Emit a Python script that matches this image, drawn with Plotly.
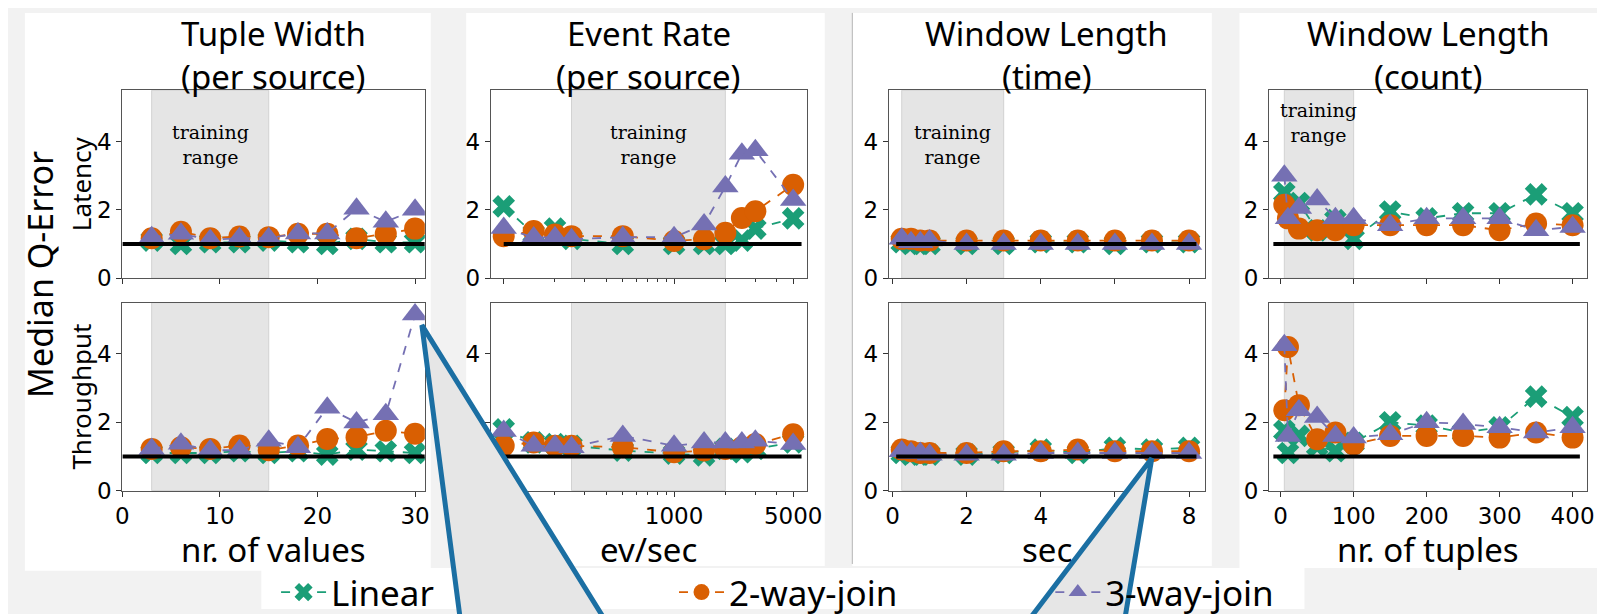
import math
import plotly.graph_objects as go

W, H = 1605, 614

# ---------------- data ----------------
series_names = ["Linear", "2-way-join", "3-way-join"]
series_colors = ["#1b9e77", "#d95f02", "#7570b3"]
series_symbols = ["x", "circle", "triangle-up"]

col_titles = [["Tuple Width", "(per source)"], ["Event Rate", "(per source)"],
              ["Window Length", "(time)"], ["Window Length", "(count)"]]
x_titles = ["nr. of values", "ev/sec", "sec", "nr. of tuples"]
row_titles = ["Latency", "Throughput"]
y_title = "Median Q-Error"

# Tuple width (per source)
tw_x = [3, 6, 9, 12, 15, 18, 21, 24, 27, 30]
tw_lat_linear = [1.1, 1.0, 1.05, 1.05, 1.1, 1.05, 1.0, 1.15, 1.05, 1.05]
tw_lat_2way = [1.17, 1.36, 1.17, 1.22, 1.2, 1.3, 1.3, 1.17, 1.3, 1.45]
tw_lat_3way = [1.2, 1.3, 1.12, 1.17, 1.17, 1.31, 1.31, 2.03, 1.65, 2.0]
tw_thr_linear = [1.1, 1.1, 1.1, 1.15, 1.1, 1.15, 1.05, 1.2, 1.15, 1.1]
tw_thr_2way = [1.22, 1.27, 1.22, 1.32, 1.18, 1.32, 1.51, 1.56, 1.75, 1.66]
tw_thr_3way = [1.22, 1.37, 1.18, 1.18, 1.46, 1.27, 2.42, 1.99, 2.23, 5.15]

# Event rate (per source)
er_x = [100, 150, 200, 250, 500, 1000, 1500, 2000, 2500, 3000, 5000]
er_lat_linear = [2.1, 1.3, 1.45, 1.15, 1.0, 1.0, 1.0, 1.0, 1.1, 1.45, 1.75]
er_lat_2way = [1.23, 1.38, 1.28, 1.23, 1.23, 1.09, 1.14, 1.33, 1.76, 1.96, 2.73]
er_lat_3way = [1.47, 1.19, 1.2, 1.14, 1.2, 1.2, 1.57, 2.68, 3.64, 3.74, 2.29]
er_thr_linear = [1.79, 1.41, 1.36, 1.31, 1.17, 1.08, 1.03, 1.22, 1.12, 1.22, 1.41]
er_thr_2way = [1.31, 1.41, 1.31, 1.31, 1.27, 1.12, 1.17, 1.22, 1.27, 1.36, 1.65]
er_thr_3way = [1.74, 1.31, 1.31, 1.27, 1.6, 1.31, 1.41, 1.41, 1.41, 1.46, 1.36]

# Window length (time)
wt_x = [0.25, 0.5, 0.75, 1, 2, 3, 4, 5, 6, 7, 8]
wt_lat_linear = [1.05, 1.0, 1.0, 1.0, 1.0, 1.0, 1.05, 1.05, 1.0, 1.05, 1.05]
wt_lat_2way = [1.15, 1.15, 1.1, 1.1, 1.1, 1.1, 1.1, 1.1, 1.1, 1.1, 1.1]
wt_lat_3way = [1.15, 1.05, 1.05, 1.1, 1.0, 1.0, 1.0, 1.0, 1.0, 1.0, 1.0]
wt_thr_linear = [1.1, 1.05, 1.05, 1.05, 1.05, 1.1, 1.2, 1.1, 1.25, 1.2, 1.25]
wt_thr_2way = [1.2, 1.15, 1.1, 1.1, 1.1, 1.15, 1.15, 1.2, 1.15, 1.15, 1.15]
wt_thr_3way = [1.15, 1.1, 1.1, 1.05, 1.05, 1.05, 1.1, 1.1, 1.1, 1.1, 1.1]

# Window length (count)
wc_x = [5, 10, 25, 50, 75, 100, 150, 200, 250, 300, 350, 400]
wc_lat_linear = [2.5, 2.1, 2.2, 1.4, 1.7, 1.15, 1.95, 1.75, 1.9, 1.9, 2.45, 1.9]
wc_lat_2way = [2.15, 1.75, 1.45, 1.4, 1.4, 1.55, 1.55, 1.55, 1.55, 1.4, 1.6, 1.55]
wc_lat_3way = [3.0, 1.75, 2.05, 2.3, 1.75, 1.75, 1.55, 1.75, 1.75, 1.75, 1.4, 1.5]
wc_thr_linear = [1.75, 1.1, 1.6, 1.3, 1.15, 1.4, 2.0, 1.9, 1.7, 1.85, 2.75, 2.15]
wc_thr_2way = [2.35, 4.2, 2.5, 1.5, 1.7, 1.35, 1.6, 1.6, 1.6, 1.55, 1.7, 1.55]
wc_thr_3way = [4.25, 1.6, 2.35, 2.15, 1.6, 1.55, 1.65, 2.0, 1.95, 1.85, 1.7, 1.85]

training_ranges = [[3, 15], [250, 2000], [0.25, 3], [5, 100]]
ref_line_x = [[0, 31], [100, 5600], [0.1, 8.2], [-10, 410]]
ref_value = 1

x_tickvals = [[0, 10, 20, 30], [100, 1000, 5000], [0, 2, 4, 6, 8], [0, 100, 200, 300, 400]]
er_minor_ticks = [200, 300, 400, 500, 600, 700, 800, 900, 2000, 3000, 4000]
y_tickvals = [0, 2, 4]

columns = [
    (tw_x, [[tw_lat_linear, tw_lat_2way, tw_lat_3way], [tw_thr_linear, tw_thr_2way, tw_thr_3way]]),
    (er_x, [[er_lat_linear, er_lat_2way, er_lat_3way], [er_thr_linear, er_thr_2way, er_thr_3way]]),
    (wt_x, [[wt_lat_linear, wt_lat_2way, wt_lat_3way], [wt_thr_linear, wt_thr_2way, wt_thr_3way]]),
    (wc_x, [[wc_lat_linear, wc_lat_2way, wc_lat_3way], [wc_thr_linear, wc_thr_2way, wc_thr_3way]]),
]

# ---------------- layout geometry (pixels) ----------------
def px(x):
    return x / W

def py(y):
    return 1 - y / H

col_px = [(107, 414), (481, 802), (885, 1206), (1271, 1594)]
row_px = [(84, 276), (301, 493)]
x_ranges = [[0, 31], [math.log10(84), math.log10(6030)], [-0.1, 8.43], [-16, 420]]
x_types = ["linear", "log", "linear", "linear"]
marker_sizes = [20, 22, 23]
train_label_y = [3.9, 3.9, 3.9, 4.57]

TITLE_FONT = "Noto Sans"
TICK_FONT = dict(family="DejaVu Sans", size=23, color="black")

fig = go.Figure()
layout = dict(
    width=W, height=H, margin=dict(l=0, r=0, t=0, b=0),
    paper_bgcolor="#f2f2f2", plot_bgcolor="white",
    showlegend=True,
)
shapes = []
annotations = []

# white background panels
panels = [(8, 5, 420, 575), (456, 5, 820, 570), (848, 5, 1213, 570), (1241, 5, 1605, 572),
          (248, 572, 1307, 614)]
for (a, b, c, d) in panels:
    shapes.append(dict(type="rect", xref="paper", yref="paper", x0=px(a), x1=px(c),
                       y0=py(d), y1=py(b), fillcolor="white", line=dict(width=0), layer="below"))
shapes.append(dict(type="line", xref="paper", yref="paper", x0=px(848), x1=px(848),
                   y0=py(568), y1=py(5), line=dict(color="#b5b5b5", width=1), layer="below"))

for r in range(2):
    for c in range(4):
        k = r * 4 + c + 1
        sfx = "" if k == 1 else str(k)
        xs, rows = columns[c]
        xa = dict(
            domain=[px(col_px[c][0]), px(col_px[c][1])], anchor="y" + sfx,
            type=x_types[c], range=x_ranges[c],
            tickmode="array", tickvals=x_tickvals[c],
            ticktext=[str(v) for v in x_tickvals[c]],
            showticklabels=(r == 1), ticks="outside", ticklen=5, tickwidth=1,
            tickcolor="#333", showline=True, mirror=True, linecolor="#555",
            linewidth=1.2, showgrid=False, zeroline=False, tickfont=TICK_FONT,
        )
        if c == 1:
            xa["minor"] = dict(tickmode="array", tickvals=er_minor_ticks, ticks="outside",
                               ticklen=3, tickcolor="#333", showgrid=False)
        ya = dict(
            domain=[py(row_px[r][1]), py(row_px[r][0])], anchor="x" + sfx,
            range=[0, 5.5], tickmode="array", tickvals=y_tickvals,
            ticks="outside", ticklen=5, tickwidth=1, tickcolor="#333",
            showline=True, mirror=True, linecolor="#555", linewidth=1.2,
            showgrid=False, zeroline=False, tickfont=TICK_FONT,
        )
        layout["xaxis" + sfx] = xa
        layout["yaxis" + sfx] = ya

        # training range shading
        t0, t1 = training_ranges[c]
        shapes.append(dict(type="rect", xref="x" + sfx, yref="y" + sfx + " domain",
                           x0=t0, x1=t1, y0=0, y1=1, fillcolor="#e5e5e5",
                           line=dict(color="#d2d2d2", width=1), layer="below"))
        if r == 0:
            if x_types[c] == "log":
                tx = (math.log10(t0) + math.log10(t1)) / 2
            else:
                tx = (t0 + t1) / 2
            annotations.append(dict(xref="x" + sfx, yref="y" + sfx, x=tx, y=train_label_y[c],
                                    text="training<br>range", showarrow=False,
                                    font=dict(family="DejaVu Serif", size=19, color="black"),
                                    xanchor="center", yanchor="middle"))

        for s in range(3):
            fig.add_trace(go.Scatter(
                x=xs, y=rows[r][s], xaxis="x" + sfx, yaxis="y" + sfx,
                mode="lines+markers", name=series_names[s],
                legend="legend" if s == 0 else "legend" + str(s + 1),
                showlegend=(k == 1), legendgroup=series_names[s],
                line=dict(color=series_colors[s], dash="dash", width=1.8),
                marker=dict(symbol=series_symbols[s], size=marker_sizes[s],
                            color=series_colors[s], line=dict(width=0)),
            ))
        fig.add_trace(go.Scatter(
            x=ref_line_x[c], y=[ref_value, ref_value], xaxis="x" + sfx, yaxis="y" + sfx,
            mode="lines", line=dict(color="black", width=4), showlegend=False, hoverinfo="skip",
        ))

# column titles (two lines each) and x-axis titles
for c in range(4):
    cx = px((col_px[c][0] + col_px[c][1]) / 2)
    for line_text, ly in zip(col_titles[c], [26, 70]):
        annotations.append(dict(xref="paper", yref="paper", x=cx, y=py(ly), text=line_text,
                                showarrow=False, xanchor="center", yanchor="middle",
                                font=dict(family=TITLE_FONT, size=33, color="black")))
    annotations.append(dict(xref="paper", yref="paper", x=cx, y=py(553), text=x_titles[c],
                            showarrow=False, xanchor="center", yanchor="middle",
                            font=dict(family=TITLE_FONT, size=33, color="black")))

# row titles
for r, yc in enumerate([180, 397]):
    annotations.append(dict(xref="paper", yref="paper", x=px(65), y=py(yc), text=row_titles[r],
                            showarrow=False, textangle=-90, xanchor="center", yanchor="middle",
                            font=dict(family=TITLE_FONT, size=26, color="black")))
annotations.append(dict(xref="paper", yref="paper", x=px(24), y=py(272), text=y_title,
                        showarrow=False, textangle=-90, xanchor="center", yanchor="middle",
                        font=dict(family=TITLE_FONT, size=34, color="black")))

# callouts
def tri_path(pts):
    return "M " + " L ".join(f"{px(a):.5f},{py(b):.5f}" for a, b in pts) + " Z"

for pts in [[(411, 324), (452, 640), (606, 640)], [(1152, 460), (1016, 640), (1122, 640)]]:
    shapes.append(dict(type="path", xref="paper", yref="paper", path=tri_path(pts),
                       fillcolor="#e6e6e6", line=dict(color="#1b6fa3", width=5), layer="above"))

legend_common = dict(orientation="h", xanchor="left", yanchor="middle", y=py(597),
                     bgcolor="rgba(0,0,0,0)", borderwidth=0, itemwidth=45,
                     font=dict(family=TITLE_FONT, size=35, color="black"))
layout["legend"] = dict(x=px(263), **legend_common)
layout["legend2"] = dict(x=px(667), **legend_common)
layout["legend3"] = dict(x=px(1049), **legend_common)
layout["shapes"] = shapes
layout["annotations"] = annotations

fig.update_layout(**layout)
fig.write_html("out.html")
